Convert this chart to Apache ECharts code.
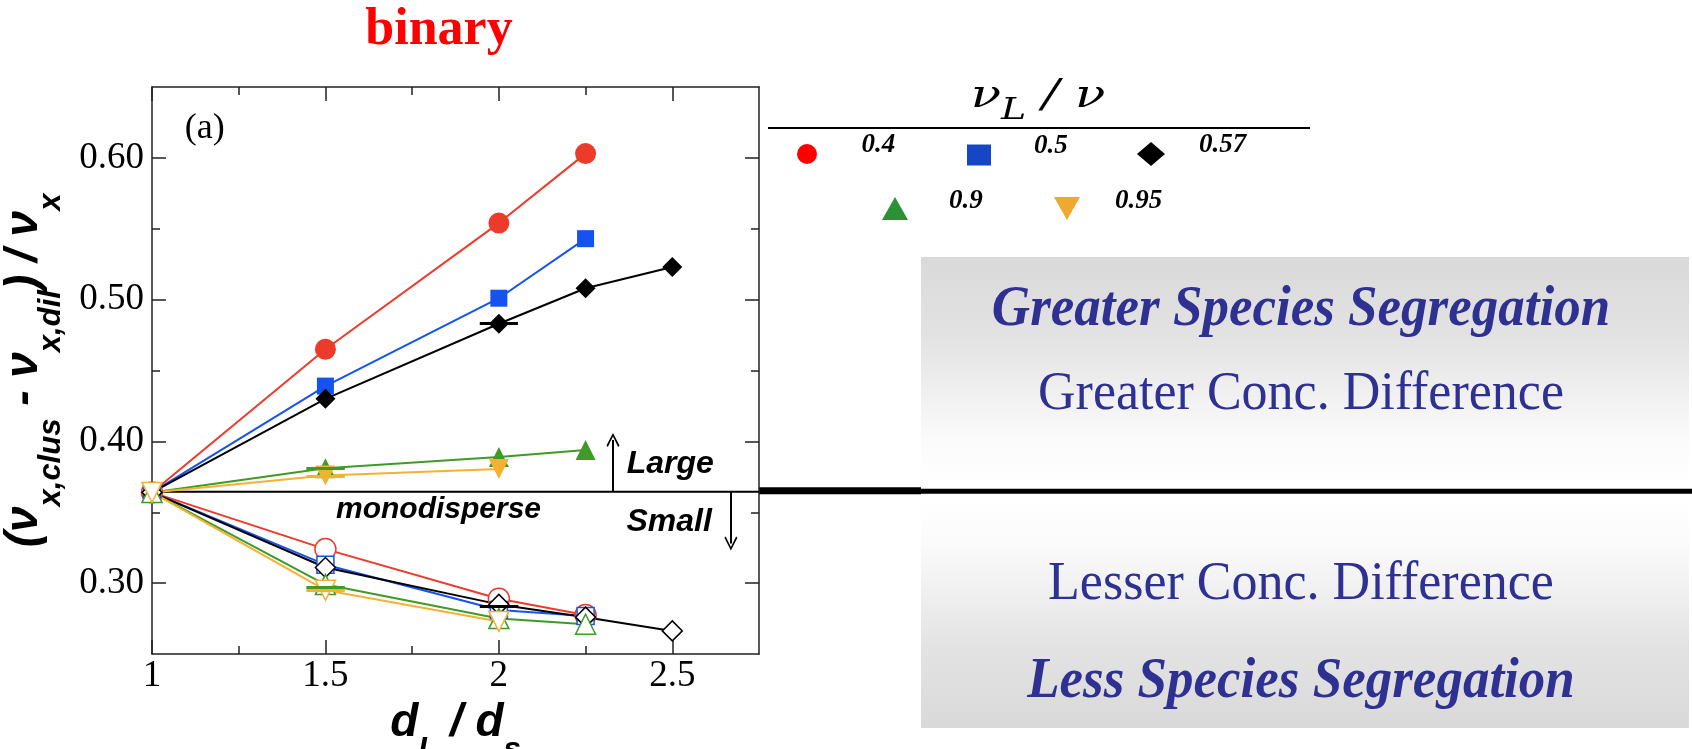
<!DOCTYPE html>
<html>
<head>
<meta charset="utf-8">
<script src="https://cdn.jsdelivr.net/npm/echarts@6/dist/echarts.min.js"></script>
<style>
  html, body { margin: 0; padding: 0; background: #fff; }
  #chart { width: 1692px; height: 749px; }
</style>
</head>
<body>
<div id="chart"></div>
<script>
// d_L / d_S
const sizeRatio = [1, 1.5, 2, 2.25, 2.5];
const ratioNames = ['0.4', '0.5', '0.57', '0.9', '0.95'];

// filled symbols (large species)
const large04 = [0.364, 0.465, 0.554, 0.603];
const large05 = [0.364, 0.439, 0.501, 0.543];
const large057 = [0.364, 0.430, 0.483, 0.508, 0.523];
const large09 = [0.364, 0.381, 0.389, 0.394];
const large095 = [0.364, 0.376, 0.3805];

// open symbols (small species)
const small04 = [0.364, 0.324, 0.289, 0.2775];
const small05 = [0.364, 0.313, 0.281, 0.2768];
const small057 = [0.364, 0.311, 0.285, 0.276, 0.2663];
const small09 = [0.364, 0.299, 0.275, 0.271];
const small095 = [0.364, 0.295, 0.273];

const monodisperse = 0.3645;

// short horizontal error bars: series index, from x, to x, at y
const errSeries = [2, 3, 4, 8, 9, 7];
const errFrom = [1.945, 1.445, 1.445, 1.445, 1.445, 1.945];
const errTo = [2.055, 1.556, 1.556, 1.556, 1.556, 2.056];
const errAt = [0.483, 0.381, 0.3755, 0.297, 0.2948, 0.284];

const xTicks = [1, 1.5, 2, 2.5];
const xTickText = ['1', '1.5', '2', '2.5'];
const xMinorTicks = [1.25, 1.75, 2.25];
const yTicks = [0.3, 0.4, 0.5, 0.6];
const yTickText = ['0.30', '0.40', '0.50', '0.60'];
const yMinorTicks = [0.35, 0.45, 0.55];

const noteText = ['(a)', 'monodisperse', 'Large', 'Small'];
const noteX = [1.152, 1.826, 2.494, 2.491];
const noteY = [0.621, 0.352, 0.384, 0.343];
const arrowX = [2.329, 2.669];
const arrowTo = [0.401, 0.328];

const colors = ['#ec3b2b', '#1652f0', '#000000', '#3f9a26', '#f4b132'];
const legendColors = ['#ff0000', '#1446c6', '#000000', '#2a9134', '#f0a830'];
const symbols = ['circle', 'rect', 'diamond', 'triangle', 'triangle'];
const symbolRot = [0, 0, 0, 0, 180];
const symbolSizes = [21, 17, 20, 20, 20];

const largeSets = [large04, large05, large057, large09, large095];
const smallSets = [small04, small05, small057, small09, small095];

const pts = arr => arr.map((v, i) => [sizeRatio[i], v]);
const tickText = (vals, texts) => v => {
  const i = vals.findIndex(t => Math.abs(t - v) < 1e-9);
  return i < 0 ? '' : texts[i];
};

function makeSeries(k, set, hollow) {
  const c = colors[k];
  return {
    type: 'line',
    name: hollow ? ratioNames[k] + ' small' : ratioNames[k],
    data: pts(set),
    symbol: symbols[k],
    symbolRotate: symbolRot[k],
    symbolSize: symbolSizes[k],
    showAllSymbol: true,
    clip: false,
    z: hollow ? 4 : 3,
    lineStyle: { color: c, width: 2 },
    itemStyle: hollow ? { color: '#fff', borderColor: c, borderWidth: 1.5 } : { color: c },
    emphasis: { disabled: true }
  };
}

const series = [];
largeSets.forEach((s, k) => series.push(makeSeries(k, s, false)));
smallSets.forEach((s, k) => series.push(makeSeries(k, s, true)));

errSeries.forEach((si, j) => {
  const s = series[si];
  if (!s.markLine) {
    s.markLine = {
      silent: true, symbol: ['none', 'none'], label: { show: false },
      lineStyle: { color: s.lineStyle.color, width: 3, type: 'solid' },
      emphasis: { disabled: true }, data: []
    };
  }
  s.markLine.data.push([{ coord: [errFrom[j], errAt[j]] }, { coord: [errTo[j], errAt[j]] }]);
});

const chevron = 'path://M5,0L10,9L9,10L5,2.5L1,10L0,9Z';
series.push({
  type: 'line',
  name: 'monodisperse',
  data: [[1, monodisperse], [2.75, monodisperse]],
  symbol: 'none',
  clip: false,
  z: 2,
  lineStyle: { color: '#000', width: 2 },
  emphasis: { disabled: true },
  markLine: {
    silent: true,
    label: { show: false },
    lineStyle: { color: '#000', width: 2, type: 'solid' },
    emphasis: { disabled: true },
    data: arrowX.map((x, i) => [
      { coord: [x, monodisperse], symbol: 'none' },
      { coord: [x, arrowTo[i]], symbol: chevron, symbolSize: [13, 14] }
    ])
  }
});

const lineCol = '#222';
const base = {
  type: 'value',
  splitLine: { show: false },
  axisLine: { show: false },
  axisLabel: { show: false },
  axisTick: { show: true, inside: true, lineStyle: { color: lineCol, width: 1.5 } }
};
const xRange = { min: 1, max: 2.75 };
const yRange = { min: 0.25, max: 0.65 };

// bold italic sans with dropped subscripts, used by both axis titles
const nameRich = {
  m: { fontFamily: 'Liberation Sans', fontWeight: 'bold', fontStyle: 'italic', fontSize: 46, lineHeight: 50, verticalAlign: 'top', color: '#000', fill: '#000' },
  s: { fontFamily: 'Liberation Sans', fontWeight: 'bold', fontStyle: 'italic', fontSize: 31, lineHeight: 35, padding: [35, 0, 0, 0], verticalAlign: 'top', color: '#000', fill: '#000' }
};

const xAxis = [
  Object.assign({}, base, xRange, {
    position: 'bottom',
    axisLine: { show: true, onZero: false, lineStyle: { color: lineCol, width: 1.5 } },
    axisTick: { show: true, inside: true, length: 14, customValues: xTicks, lineStyle: { color: lineCol, width: 1.5 } },
    axisLabel: {
      show: true, customValues: xTicks, margin: 4, color: '#000',
      fontFamily: 'Liberation Serif', fontSize: 37, formatter: tickText(xTicks, xTickText)
    },
    name: '{m|d}{s|L}{m| / d}{s|s}',
    nameLocation: 'middle',
    nameGap: 20,
    nameTextStyle: { rich: nameRich }
  }),
  Object.assign({}, base, xRange, { position: 'bottom', axisTick: Object.assign({}, base.axisTick, { length: 8, customValues: xMinorTicks }) }),
  Object.assign({}, base, xRange, {
    position: 'top',
    axisLine: { show: true, onZero: false, lineStyle: { color: lineCol, width: 1.5 } },
    axisTick: Object.assign({}, base.axisTick, { length: 14, customValues: xTicks })
  }),
  Object.assign({}, base, xRange, { position: 'top', axisTick: Object.assign({}, base.axisTick, { length: 8, customValues: xMinorTicks }) })
];

const yAxis = [
  Object.assign({}, base, yRange, {
    position: 'left',
    axisLine: { show: true, onZero: false, lineStyle: { color: lineCol, width: 1.5 } },
    axisTick: { show: true, inside: true, length: 14, customValues: yTicks, lineStyle: { color: lineCol, width: 1.5 } },
    axisLabel: {
      show: true, customValues: yTicks, margin: 8, color: '#000',
      fontFamily: 'Liberation Serif', fontSize: 37, formatter: tickText(yTicks, yTickText)
    }
  }),
  Object.assign({}, base, yRange, { position: 'left', axisTick: Object.assign({}, base.axisTick, { length: 8, customValues: yMinorTicks }) }),
  Object.assign({}, base, yRange, {
    position: 'right',
    axisLine: { show: true, onZero: false, lineStyle: { color: lineCol, width: 1.5 } },
    axisTick: Object.assign({}, base.axisTick, { length: 14, customValues: yTicks })
  }),
  Object.assign({}, base, yRange, { position: 'right', axisTick: Object.assign({}, base.axisTick, { length: 8, customValues: yMinorTicks }) })
];

// one legend per entry, laid out like the reference key
const legendIcons = ['circle', 'rect', 'diamond', 'triangle', 'path://M0,0L10,0L5,10Z'];
const legendBox = [
  // left, top, itemWidth, itemHeight, textPadLeft, spacer below text
  [797, 132, 23, 20, 38, 17],
  [967, 133, 24, 21, 38, 17],
  [1137, 132, 28, 24, 29, 17],
  [882, 188, 26, 23, 36, 14],
  [1054, 188, 26, 23, 30, 14]
];
const legend = ratioNames.map((n, k) => ({
  left: legendBox[k][0], top: legendBox[k][1], padding: 0,
  itemWidth: legendBox[k][2], itemHeight: legendBox[k][3],
  symbolKeepAspect: false,
  selectedMode: false,
  data: [{ name: n, icon: legendIcons[k], itemStyle: { color: legendColors[k], borderWidth: 0 } }],
  formatter: '{t|{name}}\n{e| }',
  textStyle: {
    rich: {
      t: {
        fontFamily: 'Liberation Serif', fontStyle: 'italic', fontWeight: 'bold', fontSize: 27, color: '#000',
        lineHeight: 27, padding: [0, 0, 0, legendBox[k][4]]
      },
      e: { fontSize: 10, lineHeight: legendBox[k][5] }
    }
  }
}));

const chart = echarts.init(document.getElementById('chart'));
chart.setOption({
  animation: false,
  backgroundColor: '#fff',
  grid: { left: 152, top: 87, width: 607, height: 567, containLabel: false, outerBoundsMode: 'none' },
  xAxis: xAxis,
  yAxis: yAxis,
  legend: legend,
  series: series
});

// annotations placed through the plot's own scales
const noteStyles = [
  { fontFamily: 'Liberation Serif', fontSize: 36, fontWeight: 'normal', fontStyle: 'normal' },
  { fontFamily: 'Liberation Sans', fontSize: 30, fontWeight: 'bold', fontStyle: 'italic' },
  { fontFamily: 'Liberation Sans', fontSize: 32, fontWeight: 'bold', fontStyle: 'italic' },
  { fontFamily: 'Liberation Sans', fontSize: 32, fontWeight: 'bold', fontStyle: 'italic' }
];
const notes = noteText.map((t, i) => {
  const p = chart.convertToPixel({ gridIndex: 0 }, [noteX[i], noteY[i]]);
  return {
    type: 'text', x: p[0], y: p[1], silent: true, z: 10,
    style: Object.assign({ text: t, fill: '#000', align: 'center', verticalAlign: 'middle' }, noteStyles[i])
  };
});

// y axis title, rotated, centred on the plot height
const gridMid = chart.convertToPixel({ gridIndex: 0 }, [1, 0.45])[1];
const yTitle = {
  type: 'text', x: 26, y: gridMid, rotation: Math.PI / 2, silent: true,
  style: {
    text: '{m|(ν}{s|x,clus}{m| - ν}{s|x,dil}{m|) / ν}{s|x}',
    align: 'center', verticalAlign: 'middle', rich: nameRich
  }
};

// decorations outside the plot
const yMono = chart.convertToPixel({ gridIndex: 0 }, [2.75, monodisperse])[1];
const textBlue = '#2e3192';
const serifText = (txt, y, bold, size) => ({
  type: 'text', x: 1301, y: y, scaleY: 1.07, silent: true,
  style: {
    text: txt, fill: textBlue, align: 'center', verticalAlign: 'middle',
    fontFamily: 'Liberation Serif', fontSize: size,
    fontWeight: bold ? 'bold' : 'normal', fontStyle: bold ? 'italic' : 'normal'
  }
});
chart.setOption({
  graphic: [
    {
      type: 'rect', silent: true, z: -1, shape: { x: 921, y: 257, width: 768, height: 230 },
      style: { fill: new echarts.graphic.LinearGradient(0, 0, 0, 1, [
        { offset: 0, color: '#d9d9d9' }, { offset: 0.35, color: '#e3e3e3' },
        { offset: 0.8, color: '#fbfbfb' }, { offset: 1, color: '#ffffff' }]) }
    },
    {
      type: 'rect', silent: true, z: -1, shape: { x: 921, y: 497, width: 768, height: 231 },
      style: { fill: new echarts.graphic.LinearGradient(0, 0, 0, 1, [
        { offset: 0, color: '#ffffff' }, { offset: 0.2, color: '#fbfbfb' },
        { offset: 0.65, color: '#e3e3e3' }, { offset: 1, color: '#d9d9d9' }]) }
    },
    { type: 'line', silent: true, shape: { x1: 759, y1: yMono - 1, x2: 921, y2: yMono - 1 }, style: { stroke: '#000', lineWidth: 7 } },
    { type: 'line', silent: true, shape: { x1: 921, y1: yMono - 0.5, x2: 1692, y2: yMono - 0.5 }, style: { stroke: '#000', lineWidth: 5 } },
    serifText('Greater Species Segregation', 310, true, 53),
    serifText('Greater Conc. Difference', 394, false, 52),
    serifText('Lesser Conc. Difference', 584, false, 52),
    serifText('Less Species Segregation', 682, true, 53),
    {
      type: 'text', x: 439, y: 31, silent: true,
      style: { text: 'binary', fill: '#ff0000', align: 'center', verticalAlign: 'middle',
        fontFamily: 'Liberation Serif', fontWeight: 'bold', fontSize: 52 }
    },
    {
      type: 'text', x: 1038, y: 77, scaleY: 0.8, silent: true,
      style: {
        text: '{n|ν}{s|L}{n| / ν}', align: 'center', verticalAlign: 'top',
        rich: {
          n: { fontFamily: 'DejaVu Serif', fontStyle: 'italic', fontSize: 50, lineHeight: 56, verticalAlign: 'top', fill: '#000' },
          s: { fontFamily: 'DejaVu Serif', fontStyle: 'italic', fontSize: 38, lineHeight: 42, padding: [24, 0, 0, 0], verticalAlign: 'top', fill: '#000' }
        }
      }
    },
    { type: 'line', silent: true, shape: { x1: 768, y1: 128, x2: 1310, y2: 128 }, style: { stroke: '#000', lineWidth: 2 } },
    yTitle
  ].concat(notes)
});
</script>
</body>
</html>
